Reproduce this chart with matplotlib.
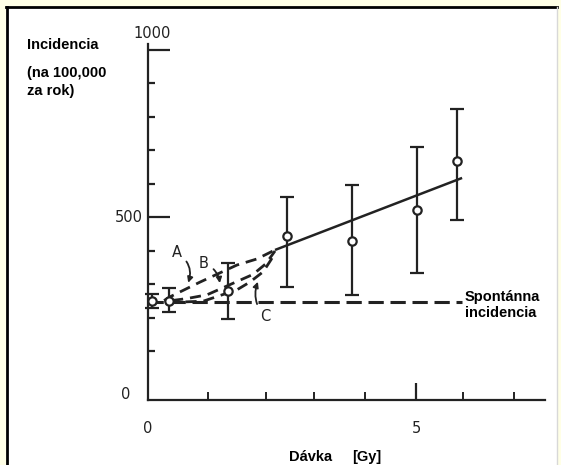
import matplotlib
matplotlib.use("Agg")
import matplotlib.pyplot as plt
from matplotlib.patches import Rectangle

# ---- data ----
dose = [0.07, 0.39, 1.49, 2.59, 3.81, 5.02, 5.76]
incidence = [250, 250, 281, 445, 430, 522, 669]
err_low = [20, 33, 84, 152, 161, 188, 176]
err_high = [20, 40, 83, 116, 167, 188, 155]

fit_dose = [2.37, 5.86]
fit_inc = [403, 618]

spont_dose = [0.0, 5.85]
spont_inc = [247, 247]

curveA_dose = [0.30, 0.41, 0.97, 1.66, 2.03, 2.37]
curveA_inc = [252, 263, 307, 358, 376, 403]
curveB_dose = [0.45, 0.73, 1.10, 1.72, 1.96, 2.20, 2.37]
curveB_inc = [252, 258, 269, 313, 330, 362, 400]
curveC_dose = [0.70, 1.03, 1.66, 1.90, 2.15, 2.30, 2.37]
curveC_inc = [248, 250, 284, 307, 338, 375, 397]

y_major = [500, 1000]
y_minor = [100, 200, 300, 400, 600, 700, 800, 900]
x_ticks = [1.12, 2.2, 3.1, 4.05, 5.87, 6.83]
x_major = [5]

ink = "#222222"

fig = plt.figure(figsize=(5.61, 4.65), dpi=100)
fig.patch.set_facecolor("#FFFFE6")
W, H = 561, 465
def fx(px): return px / W
def fy(py): return 1 - py / H

# white panel with black frame on top/left
bg = fig.add_axes([0, 0, 1, 1], zorder=-5)
bg.set_xlim(0, W)
bg.set_ylim(H, 0)
bg.axis("off")
bg.add_patch(Rectangle((6, 7), 551, H, facecolor="white", edgecolor="none"))
bg.plot([7, 7], [7, H], color="black", lw=2)
bg.plot([6, 557], [7.5, 7.5], color="black", lw=2)
bg.plot([557, 557], [7, H], color="#d8d8d8", lw=1)

ax = fig.add_axes([fx(148), fy(400), fx(545) - fx(148), fy(44) - fy(400)], zorder=1)
ax.set_facecolor("none")
ax.set_xlim(0, (545 - 148) / 53.6)
ax.set_ylim(-45, 1000 + 6 / 0.335)

for s in ["top", "right"]:
    ax.spines[s].set_visible(False)
for s in ["left", "bottom"]:
    ax.spines[s].set_color(ink)
    ax.spines[s].set_linewidth(1.6)

ax.set_yticks(y_major)
ax.set_yticks(y_minor, minor=True)
ax.set_yticklabels([])
ax.tick_params(axis="y", which="major", direction="in", length=16, width=1.6, color=ink)
ax.tick_params(axis="y", which="minor", direction="in", length=5, width=1.6, color=ink)
ax.set_xticks(x_major)
ax.set_xticks(x_ticks, minor=True)
ax.set_xticklabels([])
ax.tick_params(axis="x", which="major", direction="in", length=12, width=1.6, color=ink)
ax.tick_params(axis="x", which="minor", direction="in", length=6, width=1.4, color=ink)

tickfont = dict(family="DejaVu Sans", fontsize=10.5, color="#222222")
fig.text(fx(152), fy(33), "1000", ha="center", va="center", **tickfont)
fig.text(fx(143), fy(217), "500", ha="right", va="center", **tickfont)
fig.text(fx(130), fy(394), "0", ha="right", va="center", **tickfont)
fig.text(fx(148), fy(428), "0", ha="center", va="center", **tickfont)
fig.text(fx(416), fy(428), "5", ha="center", va="center", **tickfont)

bold = dict(family="Liberation Sans", fontweight="bold", fontsize=10.5, color="black")
fig.text(fx(27), fy(45), "Incidencia", ha="left", va="center", **bold)
fig.text(fx(27), fy(73), "(na 100,000", ha="left", va="center", **bold)
fig.text(fx(27), fy(91), "za rok)", ha="left", va="center", **bold)
fig.text(fx(289), fy(457), "Dávka", ha="left", va="center", **bold)
fig.text(fx(352), fy(457), "[Gy]", ha="left", va="center", **bold)
fig.text(fx(465), fy(297), "Spontánna", ha="left", va="center", **bold)
fig.text(fx(465), fy(313), "incidencia", ha="left", va="center", **bold)

# spontaneous incidence
ax.plot(spont_dose, spont_inc, color=ink, lw=2.2, dashes=(5, 2.2), clip_on=False)
# threshold curves
for xd, yd in [(curveA_dose, curveA_inc), (curveB_dose, curveB_inc), (curveC_dose, curveC_inc)]:
    ax.plot(xd, yd, color=ink, lw=2.0, dashes=(4, 2.5))
# fit line
ax.plot(fit_dose, fit_inc, color=ink, lw=1.8, solid_capstyle="butt")
# data
ax.errorbar(dose, incidence, yerr=[err_low, err_high], fmt="o", color=ink, mfc="white",
            mec=ink, ms=6, mew=1.6, elinewidth=1.6, capsize=5, capthick=1.6, clip_on=False,
            zorder=5)

lab = dict(family="DejaVu Sans", fontsize=10.5, color="#222222")
ap = dict(arrowstyle="-|>", color=ink, lw=1.3, mutation_scale=8, shrinkA=2, shrinkB=0)
ax.annotate("A", xy=(0.75, 305), xytext=(0.54, 394), ha="center", va="center",
            arrowprops=dict(connectionstyle="arc3,rad=-0.4", **ap), **lab)
ax.annotate("B", xy=(1.34, 304), xytext=(1.04, 364), ha="center", va="center",
            arrowprops=dict(connectionstyle="arc3,rad=-0.3", **ap), **lab)
ax.annotate("C", xy=(2.05, 308), xytext=(2.18, 203), ha="center", va="center",
            arrowprops=dict(connectionstyle="arc3,rad=-0.3", **ap), **lab)

fig.savefig("out.png", dpi=100, facecolor=fig.get_facecolor())
